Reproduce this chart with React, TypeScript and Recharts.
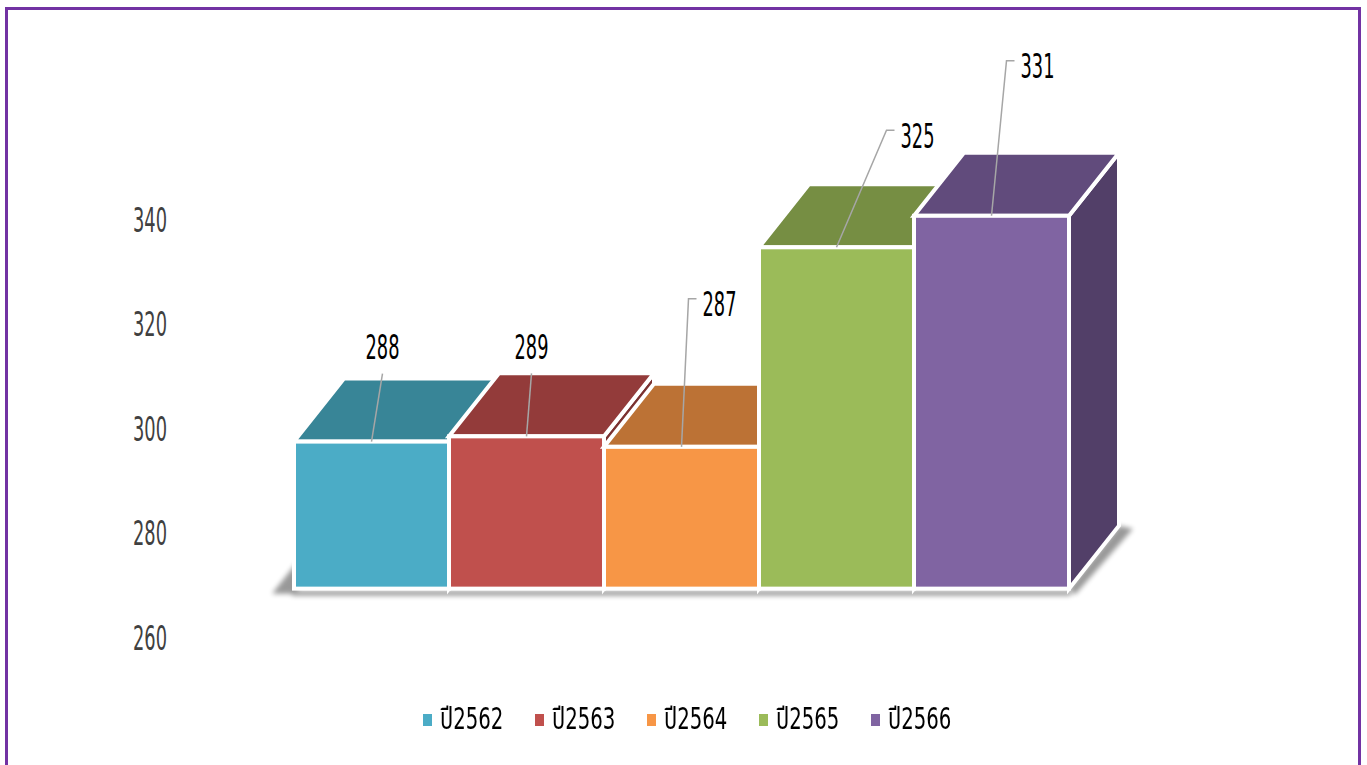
import React from 'react'
import { BarChart, Bar, XAxis, YAxis, Legend, LabelList } from 'recharts'

const years = ['ปี2562', 'ปี2563', 'ปี2564', 'ปี2565', 'ปี2566']
const values = [288, 289, 287, 325, 331]
const yTicks = [260, 280, 300, 320, 340]

const frontColors = ['#4BACC6', '#C0504D', '#F79646', '#9BBB59', '#8064A2']
const topColors = ['#388597', '#933B3A', '#BC7235', '#768E43', '#614B7C']
const sideColors = ['#2F6F80', '#7B3130', '#9E5F2C', '#627637', '#523F68']

// where each value label sits, relative to the middle of the block's front top edge
// (the labels were dragged around by hand in the original, so no common rule)
const labelOffsets: [number, number, boolean][] = [
  [11, -94, false],
  [5, -89, false],
  [38, -142, true],
  [81, -111, true],
  [46, -149, true],
]

const row: Record<string, string | number> = { name: 'all' }
years.forEach((yr, i) => { row[yr] = values[i] })
const data = [row]

const DX = 50
const DY = -63
const FONT = '"Liberation Sans Narrow", "DejaVu Sans Condensed", "Noto Sans Thai", sans-serif'
const SQUEEZE = 0.6
const LEGEND_SQUEEZE = 0.73

const Block = (props: any) => {
  const { x, y, width: w, height: h, i } = props
  const b = y + h
  const first = i === 0
  const last = i === years.length - 1
  // floor shadow: the first block lays it under the whole row, the last one adds the side wedge
  return (
    <g>
      <g filter="url(#floorShadow)" fill="#000" opacity={0.4}>
        {first && (
          <>
            <rect x={x - 2} y={b + 2} width={w * years.length + 4} height={5} />
            <polygon points={`${x - 22},${b + 5} ${x},${b + 5} ${x + DX},${b + DY} ${x + DX - 22},${b + DY + 5}`} />
          </>
        )}
        {last && (
          <polygon points={`${x + w},${b} ${x + w + DX},${b + DY} ${x + w + DX + 14},${b + DY + 3} ${x + w + 6},${b + 6}`} />
        )}
      </g>
      <polygon
        points={`${x + w},${y} ${x + w + DX},${y + DY} ${x + w + DX},${b + DY} ${x + w},${b}`}
        fill={sideColors[i]}
        stroke="#fff"
        strokeWidth={4}
      />
      <polygon
        points={`${x},${y} ${x + w},${y} ${x + w + DX},${y + DY} ${x + DX},${y + DY}`}
        fill={topColors[i]}
        stroke="#fff"
        strokeWidth={4}
      />
      <rect x={x} y={y} width={w} height={h} fill={frontColors[i]} stroke="#fff" strokeWidth={4} />
    </g>
  )
}

const makeLabel = (i: number) => (p: any) => {
  const { x, y, width, value } = p
  const cx = x + width / 2
  const [ox, oy, elbow] = labelOffsets[i]
  const tx = cx + ox
  const ty = y + oy
  const path = elbow
    ? `M${cx},${y} L${tx - 31},${ty - 6} L${tx - 23},${ty - 6}`
    : `M${cx},${y} L${tx},${ty + 26}`
  return (
    <g>
      <path d={path} fill="none" stroke="#A6A6A6" strokeWidth={1.5} />
      <text
        transform={`translate(${tx},${ty}) scale(${SQUEEZE},1)`}
        textAnchor="middle"
        dy="0.35em"
        fontSize={33}
        fontFamily={FONT}
        fill="#000"
      >
        {value}
      </text>
    </g>
  )
}

const AxisTick = (p: any) => (
  <text
    transform={`translate(${p.x},${p.y}) scale(${SQUEEZE},1)`}
    textAnchor="end"
    dy="0.35em"
    fontSize={33}
    fontFamily={FONT}
    fill="#404040"
  >
    {p.payload.value}
  </text>
)

const LegendBox = (p: any) => (
  <div style={{ display: 'flex', justifyContent: 'center', alignItems: 'center', height: 40, gap: 33, paddingLeft: 6 }}>
    {(p.payload || []).map((e: any, i: number) => (
      <div key={e.value} style={{ display: 'flex', alignItems: 'center', width: 79, flexShrink: 0 }}>
        <span style={{ display: 'inline-block', flexShrink: 0, width: 9, height: 12, background: frontColors[i] }} />
        <span
          style={{
            display: 'inline-block',
            flexShrink: 0,
            marginLeft: 8,
            fontSize: 30,
            fontFamily: FONT,
            color: '#000',
            whiteSpace: 'nowrap',
            transform: `scaleX(${LEGEND_SQUEEZE})`,
            transformOrigin: 'left center',
          }}
        >
          {e.value}
        </span>
      </div>
    ))}
  </div>
)

export default function App() {
  return (
    <div>
      <div
        style={{
          position: 'absolute',
          left: 5,
          top: 7,
          width: 1356,
          height: 780,
          border: '3px solid #7232A3',
          boxSizing: 'border-box',
        }}
      />
      <div style={{ position: 'absolute', left: 0, top: 0 }}>
        <BarChart
          width={1367}
          height={765}
          data={data}
          barGap={0}
          margin={{ top: 115.5, right: 180, bottom: 87, left: 115 }}
        >
          <defs>
            <filter id="floorShadow" x="-20%" y="-50%" width="140%" height="200%">
              <feGaussianBlur stdDeviation={2.5} />
            </filter>
          </defs>
          <XAxis dataKey="name" hide />
          <YAxis
            yAxisId="left"
            domain={[260, 360]}
            ticks={yTicks}
            allowDataOverflow
            axisLine={false}
            tickLine={false}
            width={60}
            tick={<AxisTick />}
          />
          <YAxis yAxisId="front" domain={[250.6, 350.1]} hide allowDataOverflow width={0} />
          <Legend
            verticalAlign="bottom"
            content={<LegendBox />}
            wrapperStyle={{ left: 0, top: 700, bottom: 'auto', width: 1367 }}
          />
          {years.map((yr, i) => (
            <Bar
              key={yr}
              yAxisId="front"
              name={yr}
              dataKey={(d: any) => [yTicks[0], d[yr]]}
              fill={frontColors[i]}
              barSize={155}
              isAnimationActive={false}
              shape={(p: any) => <Block {...p} i={i} />}
            >
              <LabelList dataKey={yr} content={makeLabel(i)} />
            </Bar>
          ))}
        </BarChart>
      </div>
    </div>
  )
}
